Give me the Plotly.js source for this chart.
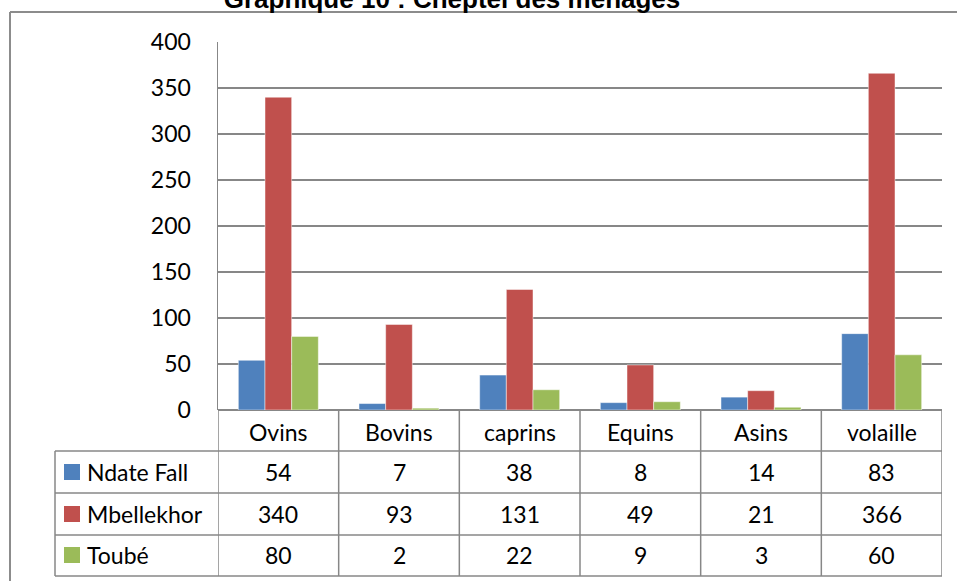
<!DOCTYPE html>
<html>
<head>
<meta charset="utf-8">
<script src="https://cdn.plot.ly/plotly-3.0.1.min.js"></script>
<style>html,body{margin:0;padding:0;background:#fff;}#chart{width:957px;height:581px;}</style>
</head>
<body>
<div id="chart"></div>
<script>
const titleText = 'Graphique 10 : Cheptel des ménages';
const categories = ['Ovins', 'Bovins', 'caprins', 'Equins', 'Asins', 'volaille'];
const seriesNames = ['Ndate Fall', 'Mbellekhor', 'Toubé'];
const ndateFall = [54, 7, 38, 8, 14, 83];
const mbellekhor = [340, 93, 131, 49, 21, 366];
const toube = [80, 2, 22, 9, 3, 60];
const yTicks = [0, 50, 100, 150, 200, 250, 300, 350, 400];

const seriesValues = [ndateFall, mbellekhor, toube];
const colors = ['#4F81BD', '#C0504D', '#9BBB59'];

const W = 957, H = 581;
const L = 218, R = 942, T = 42, B = 410;
const px = x => (x - L) / (R - L);
const py = y => (B - y) / (B - T);
const FONT = 'Lato, Carlito, "Open Sans", sans-serif';
const FS = 23;
const gridCol = '#878787';

const traces = seriesValues.map((vals, i) => ({
  type: 'bar', name: seriesNames[i], x: categories, y: vals,
  marker: {color: colors[i], line: {color: 'rgba(255,255,255,0.6)', width: 0.8}},
  hoverinfo: 'none'
}));

const shapes = [];
const annotations = [];
const lineStyle = {color: gridCol, width: 1.5};

// outer frame (left and top)
shapes.push({type: 'line', xref: 'paper', yref: 'paper', x0: px(10), x1: px(10), y0: py(12), y1: py(581), line: {color: '#8c8c8c', width: 2}});
shapes.push({type: 'line', xref: 'paper', yref: 'paper', x0: px(10), x1: px(957), y0: py(12), y1: py(12), line: {color: '#8c8c8c', width: 2}});

// table rows
const rowLines = [451, 493, 535, 576];
rowLines.forEach(y => shapes.push({type: 'line', xref: 'paper', yref: 'paper', x0: px(55), x1: px(942), y0: py(y), y1: py(y), line: lineStyle}));
shapes.push({type: 'line', xref: 'paper', yref: 'paper', x0: px(55), x1: px(55), y0: py(451), y1: py(576), line: lineStyle});
for (let i = 0; i <= categories.length; i++) {
  shapes.push({type: 'line', xref: 'x', yref: 'paper', x0: i - 0.5, x1: i - 0.5, y0: py(410), y1: py(576), line: lineStyle});
}

// header labels
categories.forEach(c => annotations.push({xref: 'x', yref: 'paper', x: c, y: py(432), text: c, showarrow: false, font: {family: FONT, size: FS, color: '#000'}, xanchor: 'center', yanchor: 'middle'}));

const rowCenters = [472, 514, 555];
seriesNames.forEach((name, r) => {
  shapes.push({type: 'rect', xref: 'paper', yref: 'paper', x0: px(64), x1: px(80), y0: py(rowCenters[r] - 8), y1: py(rowCenters[r] + 8), fillcolor: colors[r], line: {width: 0}});
  annotations.push({xref: 'paper', yref: 'paper', x: px(85), y: py(rowCenters[r]), text: name, showarrow: false, xanchor: 'left', yanchor: 'middle', font: {family: FONT, size: FS, color: '#000'}});
  seriesValues[r].forEach((v, i) => annotations.push({xref: 'x', yref: 'paper', x: categories[i], y: py(rowCenters[r]), text: String(v), showarrow: false, xanchor: 'center', yanchor: 'middle', font: {family: FONT, size: FS, color: '#000'}}));
});

const layout = {
  width: W, height: H,
  margin: {l: L, r: W - R, t: T, b: H - B, pad: 0},
  paper_bgcolor: '#fff', plot_bgcolor: '#fff',
  showlegend: false,
  barmode: 'group', bargap: 0.337, bargroupgap: 0,
  title: {text: '<b>' + titleText + '</b>', x: 452 / W, xanchor: 'center', xref: 'container', yref: 'container', y: 1 - 8 / H, yanchor: 'bottom', font: {family: '"Liberation Sans", Arial, sans-serif', size: 26, color: '#000'}},
  xaxis: {type: 'category', showticklabels: false, ticks: '', showgrid: false, zeroline: false, showline: false, range: [-0.5, categories.length - 0.5]},
  yaxis: {range: [0, 400], tickvals: yTicks, ticktext: yTicks.map(String), showgrid: true, gridcolor: gridCol, gridwidth: 1.5, zeroline: true, zerolinecolor: gridCol, zerolinewidth: 1.5, showline: true, linecolor: gridCol, linewidth: 1.5, ticks: 'outside', ticklen: 21, tickcolor: 'rgba(0,0,0,0)', tickfont: {family: FONT, size: FS, color: '#000'}},
  shapes: shapes, annotations: annotations
};

Plotly.newPlot('chart', traces, layout, {displayModeBar: false, staticPlot: true});
</script>
</body>
</html>
